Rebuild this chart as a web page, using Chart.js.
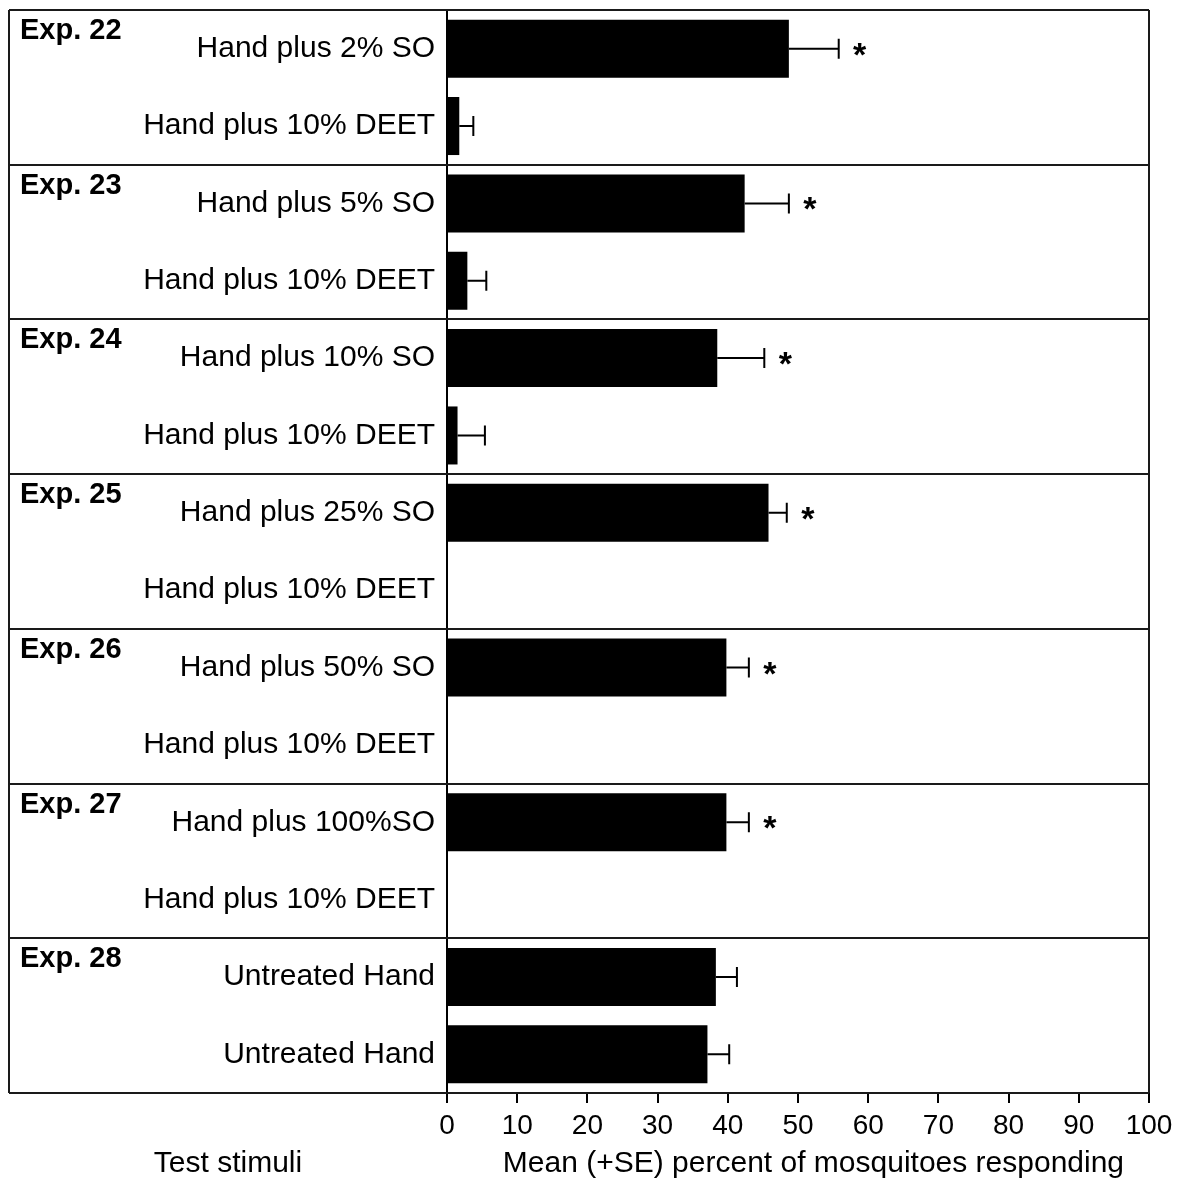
<!DOCTYPE html>
<html>
<head>
<meta charset="utf-8">
<script src="https://cdn.jsdelivr.net/npm/chart.js@4.4.1/dist/chart.umd.min.js"></script>
<style>
  html, body { margin: 0; padding: 0; background: #fff; }
  #wrap { width: 1187px; height: 1182px; position: relative; }
</style>
</head>
<body>
<div id="wrap"><canvas id="chart"></canvas></div>
<script>
// Test stimuli, two per experiment (top to bottom)
const stimuli = [
  'Hand plus 2% SO', 'Hand plus 10% DEET',
  'Hand plus 5% SO', 'Hand plus 10% DEET',
  'Hand plus 10% SO', 'Hand plus 10% DEET',
  'Hand plus 25% SO', 'Hand plus 10% DEET',
  'Hand plus 50% SO', 'Hand plus 10% DEET',
  'Hand plus 100%SO', 'Hand plus 10% DEET',
  'Untreated Hand', 'Untreated Hand'
];
// Mean percent of mosquitoes responding
const meanResponse = [48.7, 1.75, 42.4, 2.9, 38.5, 1.5, 45.8, 0, 39.8, 0, 39.8, 0, 38.3, 37.1];
// Standard error of each mean
const stdError = [7.1, 2.0, 6.3, 2.7, 6.7, 3.9, 2.6, 0, 3.2, 0, 3.2, 0, 3.0, 3.1];
// Significant difference within the experiment pair
const significant = [true, false, true, false, true, false, true, false, true, false, true, false, false, false];
// Experiment names, one per pair of stimuli
const experiments = ['Exp. 22', 'Exp. 23', 'Exp. 24', 'Exp. 25', 'Exp. 26', 'Exp. 27', 'Exp. 28'];
const xTicks = [0, 10, 20, 30, 40, 50, 60, 70, 80, 90, 100];
const xAxisTitle = 'Mean (+SE) percent of mosquitoes responding';
const yAxisTitle = 'Test stimuli';

const FONT = '"Liberation Sans", Arial, Helvetica, sans-serif';
const FRAME_LEFT = 9;

// Panel frames, experiment names, error bars, significance marks, axis captions
const decorations = {
  id: 'decorations',
  afterDatasetsDraw(chart) {
    const {ctx, chartArea, scales: {x, y}} = chart;
    ctx.save();

    // error bars
    ctx.strokeStyle = '#000';
    ctx.lineWidth = 2;
    meanResponse.forEach((m, i) => {
      if (!(stdError[i] > 0)) return;
      const yc = y.getPixelForValue(i);
      const x0 = x.getPixelForValue(m);
      const x1 = x.getPixelForValue(m + stdError[i]);
      ctx.beginPath();
      ctx.moveTo(x0, yc);
      ctx.lineTo(x1, yc);
      ctx.moveTo(x1, yc - 10);
      ctx.lineTo(x1, yc + 10);
      ctx.stroke();
      if (significant[i]) {
        ctx.fillStyle = '#000';
        ctx.font = 'bold 34px ' + FONT;
        ctx.textAlign = 'center';
        ctx.textBaseline = 'alphabetic';
        ctx.fillText('*', x1 + 21, yc + 17);
      }
    });

    // panel frames
    ctx.strokeStyle = '#1a1a1a';
    ctx.lineWidth = 2;
    for (let k = 0; k <= experiments.length; k++) {
      const yy = Math.round(y.getPixelForValue(2 * k - 0.5));
      ctx.beginPath();
      ctx.moveTo(FRAME_LEFT, yy);
      ctx.lineTo(chartArea.right, yy);
      ctx.stroke();
    }
    ctx.beginPath();
    ctx.moveTo(FRAME_LEFT, chartArea.top);
    ctx.lineTo(FRAME_LEFT, chartArea.bottom);
    ctx.moveTo(chartArea.right, chartArea.top);
    ctx.lineTo(chartArea.right, chartArea.bottom);
    ctx.stroke();

    // experiment names
    ctx.fillStyle = '#000';
    ctx.font = 'bold 29px ' + FONT;
    ctx.textAlign = 'left';
    ctx.textBaseline = 'alphabetic';
    experiments.forEach((name, k) => {
      const top = y.getPixelForValue(2 * k - 0.5);
      ctx.fillText(name, FRAME_LEFT + 11, top + 29);
    });

    // axis captions under the tick labels
    ctx.font = '30px ' + FONT;
    ctx.textAlign = 'center';
    ctx.textBaseline = 'middle';
    const captionY = x.bottom - 18;
    ctx.fillText(yAxisTitle, (FRAME_LEFT + chartArea.left) / 2, captionY);
    ctx.fillText(xAxisTitle, chartArea.left + 0.522 * (chartArea.right - chartArea.left), captionY);
    ctx.restore();
  }
};

new Chart(document.getElementById('chart'), {
  type: 'bar',
  data: {
    labels: stimuli,
    datasets: [{
      data: meanResponse,
      backgroundColor: '#000',
      borderWidth: 0,
      barPercentage: 0.75,
      categoryPercentage: 1.0
    }]
  },
  options: {
    indexAxis: 'y',
    responsive: true,
    maintainAspectRatio: false,
    animation: false,
    layout: { padding: { left: 0, right: 38, top: 10, bottom: 0 } },
    plugins: { legend: { display: false }, tooltip: { enabled: false } },
    scales: {
      x: {
        type: 'linear',
        min: 0,
        max: 100,
        afterBuildTicks(scale) { scale.ticks = xTicks.map(v => ({ value: v })); },
        afterFit(scale) {
          scale.height = 89;
          scale.paddingLeft = 0;
          scale.paddingRight = 0;
        },
        grid: { drawOnChartArea: false, drawTicks: true, tickLength: 10, color: '#000', lineWidth: 2 },
        border: { display: true, color: '#000', width: 2 },
        ticks: { color: '#000', font: { family: FONT, size: 28 }, padding: 6, maxRotation: 0, autoSkip: false },
        title: { display: false }
      },
      y: {
        type: 'category',
        offset: true,
        afterFit(scale) {
          scale.width = 447;
          scale.paddingTop = 0;
          scale.paddingBottom = 0;
        },
        grid: { display: false, drawTicks: false },
        border: { display: true, color: '#000', width: 2 },
        ticks: { color: '#000', font: { family: FONT, size: 30 }, padding: 12, autoSkip: false }
      }
    }
  },
  plugins: [decorations]
});
</script>
</body>
</html>
